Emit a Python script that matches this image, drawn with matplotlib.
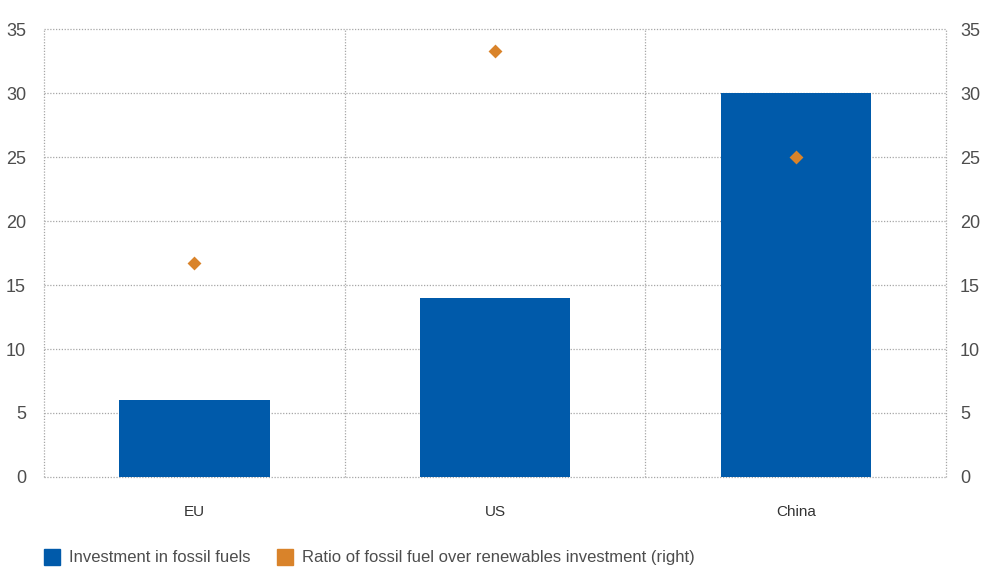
import matplotlib.pyplot as plt
from matplotlib.lines import Line2D

plt.rcParams['font.family'] = ['Liberation Sans', 'DejaVu Sans']

regioes = ['EU', 'US', 'China']
investimento = [6, 14, 30]
razao = [16.7, 33.3, 25.0]
ticks_y = [0, 5, 10, 15, 20, 25, 30, 35]

azul = '#005AAA'
laranja = '#D9832A'
cinza = '#4d4d4d'
grade = dict(linestyle=(0, (1, 1.3)), color='#a6a6a6', linewidth=0.9, zorder=0, clip_on=False)

fig = plt.figure(figsize=(9.83, 5.69), dpi=100)
ax = fig.add_axes([0.0448, 0.1617, 0.9176, 0.7873])

x = range(len(regioes))
ax.bar(x, investimento, width=0.5, color=azul, zorder=2)

ax2 = ax.twinx()
ax2.scatter(x, razao, marker='D', s=50, color=laranja, linewidths=0, zorder=3)

for a in (ax, ax2):
    a.set_ylim(0, 35)
    a.set_yticks(ticks_y)
    for s in a.spines.values():
        s.set_visible(False)
    a.tick_params(axis='y', length=0, labelsize=13, colors=cinza)
ax.tick_params(axis='y', pad=13)
ax2.tick_params(axis='y', pad=10)
ax.set_xlim(-0.5, 2.5)
ax.set_xticks(list(x))
ax.set_xticklabels(regioes)
ax.tick_params(axis='x', length=0, labelsize=11, colors='#333333', pad=20)

# grade pontilhada
for yv in ticks_y:
    ax.axhline(yv, **grade)
for xv in [-0.5, 0.5, 1.5, 2.5]:
    ax.axvline(xv, **grade)

handles = [
    Line2D([], [], marker='s', linestyle='none', color=azul, markersize=11),
    Line2D([], [], marker='s', linestyle='none', color=laranja, markersize=11),
]
labels = ['Investment in fossil fuels',
          'Ratio of fossil fuel over renewables investment (right)']
leg = fig.legend(handles, labels, loc='lower left', bbox_to_anchor=(0.029, -0.02),
                 ncol=2, frameon=False, fontsize=12, handletextpad=0.5,
                 columnspacing=1.6, handlelength=1.0)
for t in leg.get_texts():
    t.set_color(cinza)

fig.savefig('out.png', dpi=100)
